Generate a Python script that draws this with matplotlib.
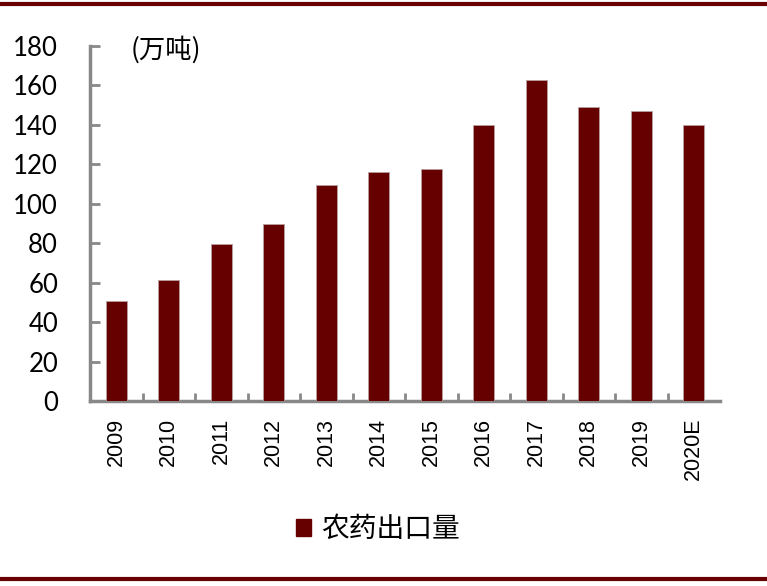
import matplotlib
matplotlib.use("Agg")
import matplotlib.pyplot as plt
from matplotlib.lines import Line2D
from matplotlib.patches import Patch

years = ["2009", "2010", "2011", "2012", "2013", "2014", "2015", "2016", "2017", "2018", "2019", "2020E"]
exports = [50.5, 61.5, 79.5, 89.8, 109.5, 116.0, 117.5, 140.0, 163.0, 149.0, 147.0, 140.0]
y_ticks = [0, 20, 40, 60, 80, 100, 120, 140, 160, 180]
series_name = "农药出口量"
unit_label = "(万吨)"

cjk = ["Noto Sans CJK SC", "DejaVu Sans"]
bar_color = "#660000"
spine_color = "#888888"

fig = plt.figure(figsize=(7.67, 5.86), dpi=100)
ax = fig.add_axes([90/767, 1-401/586, (720-90)/767, (401-46)/586])

x = list(range(len(years)))
ax.bar(x, exports, width=0.4, color=bar_color, edgecolor="#b8a0a0", linewidth=0.6, zorder=3)

ax.set_xlim(-0.5, len(years)-0.5)
ax.set_ylim(0, 180)
ax.set_yticks(y_ticks)
ax.set_yticklabels([str(v) for v in y_ticks], fontfamily="Lato", fontsize=18.5)
ax.set_xticks([i + 0.5 for i in range(len(years)-1)], minor=False)
ax.set_xticklabels([])
ax.set_xticks(x, minor=True)
ax.set_xticklabels(years, minor=True, rotation=90, fontfamily="Liberation Sans", fontsize=15.5)
ax.tick_params(axis="x", which="minor", length=0, pad=12)
ax.tick_params(axis="x", which="major", direction="in", length=6, width=2, color=spine_color)
ax.tick_params(axis="y", direction="in", length=7, width=2, color=spine_color, pad=23)

for s in ["top", "right"]:
    ax.spines[s].set_visible(False)
for s in ["left", "bottom"]:
    ax.spines[s].set_color(spine_color)
    ax.spines[s].set_linewidth(2.5)

fig.text(131/767, 1-50/586, unit_label, family=cjk, fontsize=19, va="center", ha="left")

handle = Patch(facecolor=bar_color, edgecolor=bar_color)
fig.legend([handle], [series_name], loc="center", bbox_to_anchor=(378/767, 1-529/586),
           frameon=False, prop={"family": cjk, "size": 20}, handlelength=0.55, handleheight=0.55,
           handletextpad=0.35)

fig.add_artist(Line2D([0, 1], [1-4/586, 1-4/586], color="#6b0000", linewidth=3, transform=fig.transFigure))
fig.add_artist(Line2D([0, 1], [1-579/586, 1-579/586], color="#6b0000", linewidth=3, transform=fig.transFigure))

fig.savefig("out.png", dpi=100, facecolor="white")
